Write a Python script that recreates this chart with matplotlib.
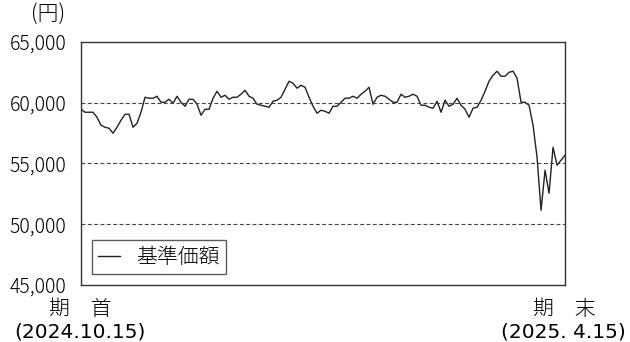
import numpy as np
import matplotlib
matplotlib.use("Agg")
import matplotlib.pyplot as plt
from matplotlib import font_manager

plt.rcParams['font.family'] = ['Noto Sans CJK JP', 'DejaVu Sans']

# 基準価額（日次, 2024.10.15 ～ 2025.4.15）
nav = [59465, 59218, 59218, 59218, 58807, 58148, 57984, 57901, 57490, 57984,
       58560, 59054, 59054, 57984, 58313, 59218, 60453, 60370, 60370, 60535,
       60041, 60041, 60288, 59959, 60535, 60041, 59712, 60288, 60288, 59877,
       58971, 59465, 59465, 60370, 60946, 60453, 60617, 60288, 60453, 60453,
       60700, 61029, 60535, 60370, 59877, 59794, 59712, 59630, 60123, 60206,
       60453, 61111, 61770, 61605, 61193, 61440, 61276, 60453, 59712, 59136,
       59383, 59300, 59136, 59712, 59712, 60041, 60370, 60370, 60535, 60370,
       60700, 60946, 61276, 59877, 60453, 60617, 60535, 60288, 60041, 60041,
       60700, 60453, 60535, 60700, 60535, 59794, 59794, 59630, 59547, 60123,
       59218, 60206, 59712, 59877, 60370, 59794, 59465, 58807, 59547, 59630,
       60206, 60946, 61770, 62263, 62593, 62181, 62181, 62510, 62593, 62016,
       60041, 60041, 59794, 58148, 55514, 51152, 54444, 52551, 56338, 54856,
       55268, 55679]

yticks = [45000, 50000, 55000, 60000, 65000]
ytick_labels = ["45,000", "50,000", "55,000", "60,000", "65,000"]
start_label = ["期　首", "(2024.10.15)"]
end_label = ["期　末", "(2025. 4.15)"]

# 細いウェイトがあれば使う
names = [f.name + ":" + str(f.weight) for f in font_manager.fontManager.ttflist if "CJK JP" in f.name]
print(names)
w = 300

fig = plt.figure(figsize=(6.3, 3.42), dpi=100)
ax = fig.add_axes([0.1286, 0.1667, 0.7683, 0.7105])

x = np.arange(len(nav))
ax.plot(x, nav, color="#222222", linewidth=1.0, label="基準価額")

for v in [50000, 55000, 60000]:
    ax.axhline(v, color="#444444", linewidth=0.8, linestyle=(0, (3.5, 2.2)))

ax.set_xlim(0, len(nav) - 1)
ax.set_ylim(45000, 65000)
ax.set_yticks(yticks)
ax.set_yticklabels(ytick_labels, fontsize=14, fontweight=w)
ax.tick_params(axis="y", length=0, pad=10.5)
ax.set_xticks([])
for s in ax.spines.values():
    s.set_color("#333333")
    s.set_linewidth(1.0)

fig.text(0.104, 0.925, "(円)", fontsize=15, ha="right", va="bottom", fontweight=w)
fig.text(0.127, 0.065, start_label[0], fontsize=15, ha="center", va="bottom", fontweight=w)
fig.text(0.127, 0.0, start_label[1], fontsize=14.5, ha="center", va="bottom",
         family=["DejaVu Sans"], fontweight=w)
fig.text(0.895, 0.065, end_label[0], fontsize=15, ha="center", va="bottom", fontweight=w)
fig.text(0.895, 0.0, end_label[1], fontsize=14.5, ha="center", va="bottom",
         family=["DejaVu Sans"], fontweight=w)

leg = ax.legend(loc="lower left", bbox_to_anchor=(0.023, 0.045),
                prop={'size': 15, 'weight': w},
                frameon=True, fancybox=False, handlelength=1.05,
                handletextpad=0.75, borderpad=0.3, borderaxespad=0)
leg.get_frame().set_edgecolor("#333333")
leg.get_frame().set_linewidth(1.0)

plt.savefig("out.png", dpi=100)
